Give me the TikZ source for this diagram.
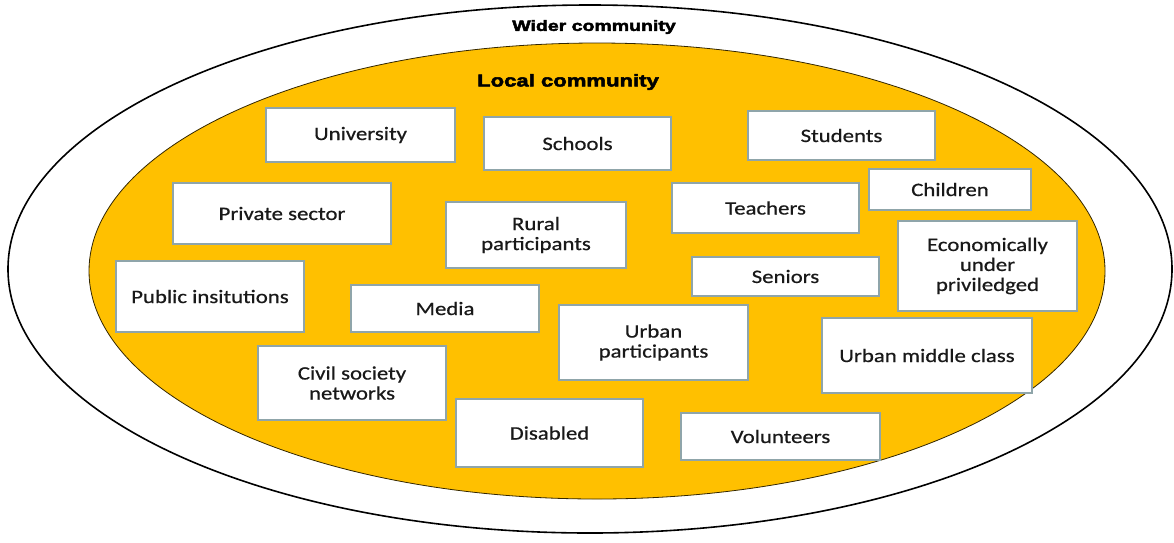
\documentclass[tikz,border=0pt]{standalone}
\usepackage{fontspec}
\setmainfont{Carlito}[FakeStretch=1.2,FakeBold=0.6]
\newfontfamily\headfont{Liberation Sans}[FakeStretch=1.3,BoldFeatures={FakeBold=3}]
\definecolor{gold}{RGB}{255,192,0}
\definecolor{boxline}{RGB}{143,165,170}
\definecolor{txt}{RGB}{25,25,25}
\begin{document}
\begin{tikzpicture}[x=1pt,y=-1pt,
  box/.style={draw=boxline,line width=2.6pt,fill=white,inner sep=0pt,align=center,
    text=txt,font=\fontsize{19}{20}\selectfont},
  head/.style={inner sep=0pt,text=black}]
\useasboundingbox (0,0) rectangle (1174,542);
\draw[line width=1.6pt] (590,269) ellipse [x radius=582,y radius=264];
\draw[fill=gold,draw=black!80!gold,line width=0.8pt] (597,271) ellipse [x radius=508,y radius=228];
\node[head,font=\headfont\bfseries\fontsize{15}{15}\selectfont] (wider) at (594,27) {Wider community};
\node[head,font=\headfont\bfseries\fontsize{17}{17}\selectfont] (local) at (568,82) {Local community};
\node[box,minimum width=189,minimum height=54] (univ) at (360.5,135) {University};
\node[box,minimum width=187,minimum height=53] (schools) at (577.5,143.5) {Schools};
\node[box,minimum width=187,minimum height=49] (students) at (841.5,135.5) {Students};
\node[box,minimum width=218,minimum height=61] (private) at (282,213.5) {Private sector};
\node[box,minimum width=180,minimum height=66] (rural) at (536,235) {Rural\\participants};
\node[box,minimum width=187,minimum height=50] (teachers) at (765.5,208) {Teachers};
\node[box,minimum width=162,minimum height=41] (children) at (950,189.5) {Children};
\node[box,minimum width=179,minimum height=90] (econ) at (987.5,266) {Economically\\under\\priviledged};
\node[box,minimum width=187,minimum height=39] (seniors) at (785.5,276.5) {Seniors};
\node[box,minimum width=188,minimum height=71] (public) at (210,296.5) {Public insitutions};
\node[box,minimum width=188,minimum height=47] (media) at (445,308.5) {Media};
\node[box,minimum width=189,minimum height=75] (urbanp) at (653.5,342.5) {Urban\\participants};
\node[box,minimum width=210,minimum height=75] (urbanm) at (927,355.5) {Urban middle class};
\node[box,minimum width=188,minimum height=74] (civil) at (352,383) {Civil society\\networks};
\node[box,minimum width=187,minimum height=68] (disabled) at (549.5,433) {Disabled};
\node[box,minimum width=199,minimum height=47] (volunteers) at (780.5,436.5) {Volunteers};
\end{tikzpicture}
\end{document}
